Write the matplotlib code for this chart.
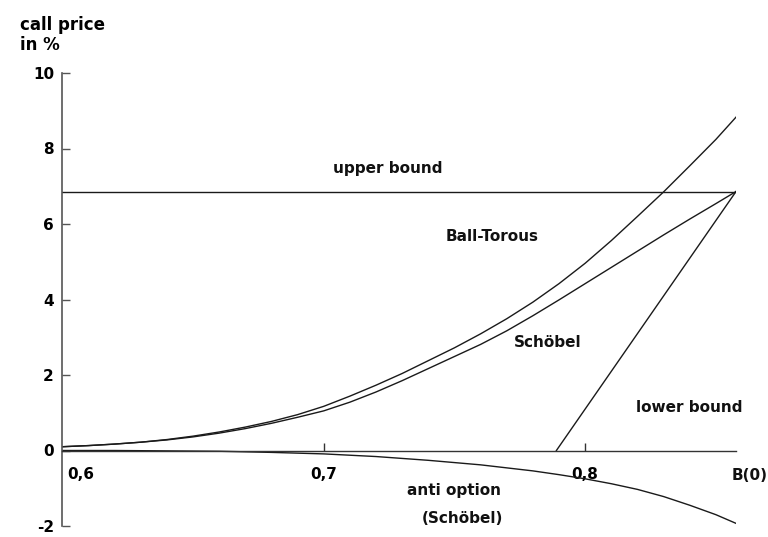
import matplotlib
matplotlib.use("Agg")
import matplotlib.pyplot as plt
from matplotlib.transforms import ScaledTranslation

# ---- data ----
b0 = [0.60, 0.61, 0.62, 0.63, 0.64, 0.65, 0.66, 0.67, 0.68, 0.69,
      0.70, 0.71, 0.72, 0.73, 0.74, 0.75, 0.76, 0.77, 0.78, 0.79,
      0.80, 0.81, 0.82, 0.83, 0.84, 0.85, 0.8577]
ball_torous = [0.10, 0.13, 0.17, 0.22, 0.29, 0.38, 0.49, 0.62, 0.77, 0.95,
               1.17, 1.44, 1.73, 2.04, 2.38, 2.72, 3.09, 3.49, 3.93, 4.42,
               4.96, 5.56, 6.20, 6.85, 7.54, 8.24, 8.83]
schoebel = [0.10, 0.13, 0.17, 0.22, 0.28, 0.36, 0.46, 0.58, 0.72, 0.88,
            1.05, 1.28, 1.55, 1.85, 2.17, 2.49, 2.81, 3.17, 3.57, 3.99,
            4.42, 4.85, 5.28, 5.71, 6.13, 6.54, 6.86]
anti_x = [0.60, 0.62, 0.64, 0.66, 0.68, 0.70, 0.72, 0.74, 0.76, 0.78,
          0.79, 0.80, 0.81, 0.82, 0.83, 0.84, 0.85, 0.8577]
anti_option = [0.0, 0.0, -0.01, -0.02, -0.05, -0.09, -0.16, -0.26, -0.38, -0.54,
               -0.64, -0.75, -0.88, -1.03, -1.22, -1.45, -1.70, -1.93]

upper_x = [0.60, 0.8577]
upper_y = [6.86, 6.86]
lower_x = [0.789, 0.8577]
lower_y = [0.0, 6.86]

xticks = [0.6, 0.7, 0.8]
xtick_labels = ["0,6", "0,7", "0,8"]
yticks = [-2, 0, 2, 4, 6, 8, 10]
ytick_labels = ["-2", "0", "2", "4", "6", "8", "10"]

W, H = 768, 537
fig = plt.figure(figsize=(W / 100, H / 100), dpi=100)
ax = fig.add_axes([62.3 / W, 1 - 526 / H, (736 - 62.3) / W, (526 - 73) / H])
ax.set_xlim(0.6, 0.8577)
ax.set_ylim(-2, 10)

lc = "#1a1a1a"
lw = 1.0
ax.plot(b0, ball_torous, color=lc, lw=lw)
ax.plot(b0, schoebel, color=lc, lw=lw)
ax.plot(anti_x, anti_option, color=lc, lw=lw)
ax.plot(upper_x, upper_y, color=lc, lw=lw)
ax.plot(lower_x, lower_y, color=lc, lw=lw)

for s in ["top", "right"]:
    ax.spines[s].set_visible(False)
ax.spines["bottom"].set_position(("data", 0))
ax.spines["bottom"].set_color("#333333")
ax.spines["left"].set_color("#555555")
ax.spines["left"].set_linewidth(1.2)
ax.spines["bottom"].set_linewidth(1.0)

ax.set_yticks(yticks)
ax.set_yticklabels(ytick_labels, fontsize=11, fontweight="bold")
ax.tick_params(axis="y", direction="in", length=6, width=1, color="#555555", pad=6)
ax.set_xticks(xticks)
ax.set_xticklabels(xtick_labels, fontsize=11, fontweight="bold")
ax.tick_params(axis="x", direction="in", length=6, width=1, color="#333333", pad=12)
# shift the "0,6" label to the right of the axis
lab0 = ax.get_xticklabels()[0]
lab0.set_transform(lab0.get_transform() + ScaledTranslation(18 / 100, 0, fig.dpi_scale_trans))
ax.xaxis.get_major_ticks()[0].tick1line.set_visible(False)

fs = 11
kw = dict(ha="center", va="center", fontsize=fs, fontweight="bold", color="#111111")
ax.text(0.7244, 7.48, "upper bound", **kw)
ax.text(0.7646, 5.66, "Ball-Torous", **kw)
ax.text(0.7856, 2.85, "Schöbel", **kw)
ax.text(0.8398, 1.13, "lower bound", **kw)
ax.text(0.7500, -1.05, "anti option", **kw)
ax.text(0.7531, -1.81, "(Schöbel)", **kw)
ax.text(0.8628, -0.65, "B(0)", clip_on=False, **kw)

fig.text(20 / W, 1 - 25 / H, "call price", ha="left", va="center", fontsize=12, fontweight="bold")
fig.text(20 / W, 1 - 45 / H, "in %", ha="left", va="center", fontsize=12, fontweight="bold")

fig.savefig("out.png", dpi=100)
